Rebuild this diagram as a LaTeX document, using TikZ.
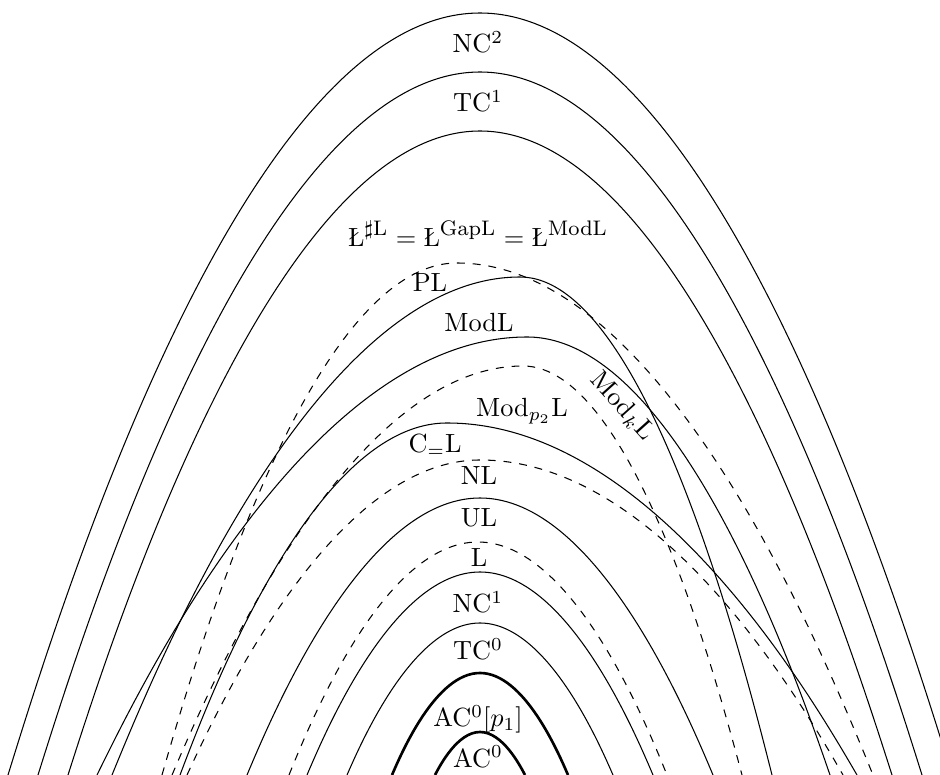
\documentclass[tikz,border=0pt]{standalone}
\usepackage{tikz}
\usetikzlibrary{positioning}
\tikzset{
  class-line/.style={draw=black,line width=0.4pt},
  class-open/.style={class-line,dashed},
  class-base/.style={class-line,line width=1pt},
  class-name/.style={anchor=base,inner sep=0pt,font=\normalsize},
}
\newcommand{\supsize}[1]{\mbox{\footnotesize #1}}

\begin{document}
\begin{tikzpicture}[x=0.38pt,y=-0.38pt]
  \useasboundingbox (0,0) rectangle (940,775);
  \begin{scope}
    \clip (0,0) rectangle (940,775);
    % outer classes
    \draw[class-line] (8,775) parabola bend (480,13) (952,775);
    \draw[class-line] (38,775) parabola bend (480,72) (922,775);
    \draw[class-line] (68,775) parabola bend (480,131) (892,775);
    % counting classes (skewed)
    \draw[class-open] (162,775) parabola bend (457,263) (873,775);
    \draw[class-line] (112,775) parabola bend (520,277) (772,775);
    \draw[class-line] (97,775) parabola bend (527,337) (830,775);
    \draw[class-open] (172,775) parabola bend (523,366) (742,775);
    \draw[class-line] (180,775) parabola bend (447,423) (857,775);
    \draw[class-open] (187,775) parabola bend (480,460) (843,775);
    % logspace and circuits
    \draw[class-line] (247,775) parabola bend (480,498) (713,775);
    \draw[class-open] (289,775) parabola bend (478,542) (667,775);
    \draw[class-line] (307,775) parabola bend (480,572) (653,775);
    \draw[class-line] (347,775) parabola bend (480,623) (613,775);
    \draw[class-base] (392,775) parabola bend (480,673) (568,775);
    \draw[class-base] (435,775) parabola bend (480,732) (525,775);
  \end{scope}
  \node[class-name] (nc2) at (478,53) {NC$^2$};
  \node[class-name] (tc1) at (478,112) {TC$^1$};
  \node[class-name] (sharpl) at (478,247)
    {$\mbox{\L}^{\supsize{$\sharp$L}} = \mbox{\L}^{\supsize{GapL}}
      = \mbox{\L}^{\supsize{ModL}}$};
  \node[class-name] (pl) at (430,292) {PL};
  \node[class-name] (modl) at (479,332) {ModL};
  \node[anchor=center,inner sep=0pt,rotate=-48] (modkl) at (622,406) {Mod$_k$L};
  \node[class-name] (modpl) at (522,417) {Mod$_{p_2}$L};
  \node[class-name] (ceql) at (435,453) {C$_=$L};
  \node[class-name] (nl) at (479,485) {NL};
  \node[class-name] (ul) at (479,527) {UL};
  \node[class-name] (logl) at (479,567) {L};
  \node[class-name] (nc1) at (478,613) {NC$^1$};
  \node[class-name] (tc0) at (478,660) {TC$^0$};
  \node[class-name] (acp) at (478,727) {AC$^0[p_1]$};
  \node[class-name] (ac0) at (478,767) {AC$^0$};
\end{tikzpicture}
\end{document}
